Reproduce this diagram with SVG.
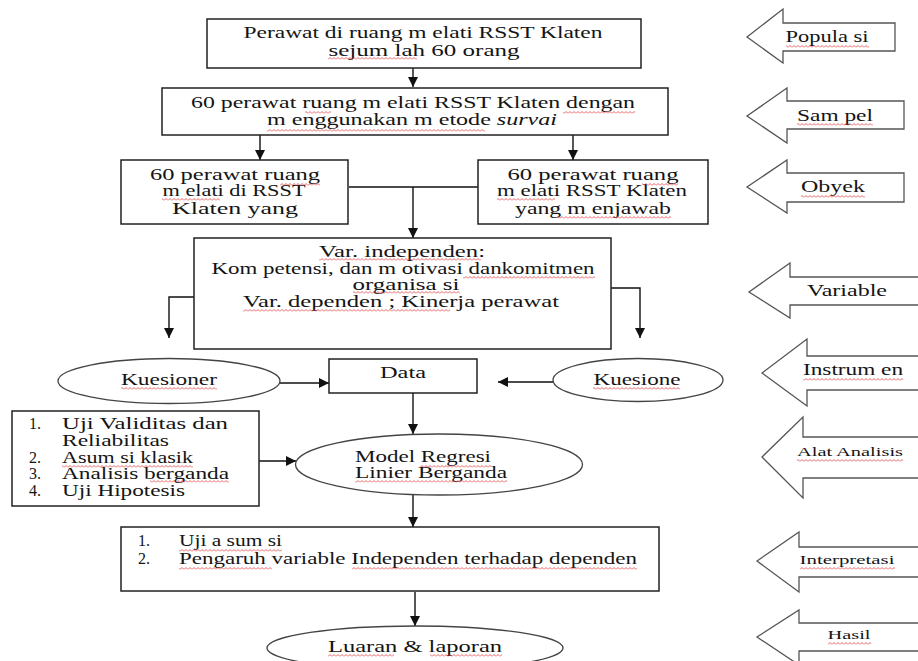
<svg xmlns="http://www.w3.org/2000/svg" width="918" height="661" viewBox="0 0 918 661">
<defs>
<marker id="ah" markerUnits="userSpaceOnUse" markerWidth="11" markerHeight="11" refX="10" refY="5" orient="auto">
<path d="M0,0 L10,5 L0,10 z" fill="#111"/>
</marker>
<pattern id="sq" width="4" height="3" patternUnits="userSpaceOnUse">
<path d="M0,2.5 L2,0.5 L4,2.5" fill="none" stroke="#e23a3a" stroke-width="0.8"/>
</pattern>
<style>
.box{fill:#fff;stroke:#222;stroke-width:1.5}
.ell{fill:#fff;stroke:#444;stroke-width:1.3}
.blk{fill:#fff;stroke:#555;stroke-width:1.3}
.t{font-family:"Liberation Serif","Times New Roman",serif;font-size:16px;fill:#141414}
.s{font-size:13px}
.c{text-anchor:middle}
.con{fill:none;stroke:#111;stroke-width:1.4}
#spell rect{fill:url(#sq)}
</style>
</defs>
<rect width="918" height="661" fill="#fff"/>

<g id="connectors">
<path class="con" d="M413,68 V87" marker-end="url(#ah)"/>
<path class="con" d="M260,135 V160" marker-end="url(#ah)"/>
<path class="con" d="M573,135 V160" marker-end="url(#ah)"/>
<path class="con" d="M349,187 H478"/>
<path class="con" d="M413,187 V238" marker-end="url(#ah)"/>
<path class="con" d="M208,297 H169 V338" marker-end="url(#ah)"/>
<path class="con" d="M611,288 H640 V338" marker-end="url(#ah)"/>
<path class="con" d="M279,383 H329" marker-end="url(#ah)"/>
<path class="con" d="M553,382 H498" marker-end="url(#ah)"/>
<path class="con" d="M413,393 V434" marker-end="url(#ah)"/>
<path class="con" d="M240,461 H296" marker-end="url(#ah)"/>
<path class="con" d="M413,495 V527" marker-end="url(#ah)"/>
<path class="con" d="M415,592 V626" marker-end="url(#ah)"/>
</g>

<g id="populasi-box">
<rect class="box" x="207" y="19" width="434" height="49"/>
<text class="t c" x="423" y="38" textLength="359" lengthAdjust="spacingAndGlyphs">Perawat di ruang m elati RSST Klaten</text>
<text class="t c" x="424" y="56" textLength="191" lengthAdjust="spacingAndGlyphs">sejum lah  60  orang</text>
</g>

<g id="sampel-box">
<rect class="box" x="162" y="88" width="506" height="47"/>
<text class="t c" x="413" y="108" textLength="444" lengthAdjust="spacingAndGlyphs">60 perawat ruang m elati RSST Klaten dengan</text>
<text class="t c" x="412" y="125" textLength="290" lengthAdjust="spacingAndGlyphs">m enggunakan m etode  <tspan font-style="italic">survai</tspan></text>
</g>

<g id="obyek-left">
<rect class="box" x="121" y="160" width="227" height="64"/>
<text class="t c" x="235" y="180" textLength="170" lengthAdjust="spacingAndGlyphs">60 perawat ruang</text>
<text class="t c" x="234" y="196" textLength="143" lengthAdjust="spacingAndGlyphs">m elati di RSST</text>
<text class="t c" x="235" y="214" textLength="126" lengthAdjust="spacingAndGlyphs">Klaten  yang</text>
</g>

<g id="obyek-right">
<rect class="box" x="478" y="160" width="230" height="64"/>
<text class="t c" x="593" y="180" textLength="171" lengthAdjust="spacingAndGlyphs">60 perawat ruang</text>
<text class="t c" x="592" y="196" textLength="190" lengthAdjust="spacingAndGlyphs">m elati RSST Klaten</text>
<text class="t c" x="593" y="214" textLength="156" lengthAdjust="spacingAndGlyphs">yang m enjawab</text>
</g>

<g id="variable-box">
<rect class="box" x="194" y="238" width="417" height="111"/>
<text class="t c" x="402" y="257" textLength="166" lengthAdjust="spacingAndGlyphs">Var. independen:</text>
<text class="t c" x="403" y="274" textLength="383" lengthAdjust="spacingAndGlyphs">Kom petensi,  dan m otivasi dankomitmen</text>
<text class="t c" x="406" y="290" textLength="107" lengthAdjust="spacingAndGlyphs">organisa si</text>
<text class="t c" x="401" y="307" textLength="316" lengthAdjust="spacingAndGlyphs">Var. dependen ; Kinerja perawat</text>
</g>

<g id="kuesioner-left">
<ellipse class="ell" cx="169" cy="381" rx="111" ry="22.5"/>
<text class="t c" x="169" y="385" textLength="96" lengthAdjust="spacingAndGlyphs">Kuesioner</text>
</g>

<g id="data-box">
<rect class="box" x="329" y="359" width="148" height="34"/>
<text class="t c" x="403" y="378" textLength="46" lengthAdjust="spacingAndGlyphs">Data</text>
</g>

<g id="kuesioner-right">
<ellipse class="ell" cx="638" cy="380" rx="85" ry="21.5"/>
<text class="t c" x="637" y="385" textLength="87" lengthAdjust="spacingAndGlyphs">Kuesione</text>
</g>

<g id="analisis-list">
<rect class="box" x="12" y="411" width="247" height="95"/>
<text class="t" x="29" y="429">1.</text>
<text class="t" x="62" y="429" textLength="166" lengthAdjust="spacingAndGlyphs">Uji Validitas  dan</text>
<text class="t" x="62" y="446" textLength="107" lengthAdjust="spacingAndGlyphs">Reliabilitas</text>
<text class="t" x="29" y="463">2.</text>
<text class="t" x="62" y="463" textLength="131" lengthAdjust="spacingAndGlyphs">Asum si klasik</text>
<text class="t" x="29" y="479">3.</text>
<text class="t" x="62" y="479" textLength="167" lengthAdjust="spacingAndGlyphs">Analisis berganda</text>
<text class="t" x="29" y="496">4.</text>
<text class="t" x="62" y="496" textLength="123" lengthAdjust="spacingAndGlyphs">Uji Hipotesis</text>
</g>

<g id="model-regresi">
<ellipse class="ell" cx="439" cy="464.5" rx="143.5" ry="30.5"/>
<text class="t" x="355" y="462" textLength="136" lengthAdjust="spacingAndGlyphs">Model Regresi</text>
<text class="t" x="355" y="478" textLength="152" lengthAdjust="spacingAndGlyphs">Linier Berganda</text>
</g>

<g id="interpretasi-box">
<rect class="box" x="121" y="527" width="538" height="64"/>
<text class="t" x="138" y="546">1.</text>
<text class="t" x="179" y="546" textLength="103" lengthAdjust="spacingAndGlyphs">Uji a sum si</text>
<text class="t" x="138" y="564">2.</text>
<text class="t" x="179" y="564" textLength="458" lengthAdjust="spacingAndGlyphs">Pengaruh variable Independen terhadap dependen</text>
</g>

<g id="luaran">
<ellipse class="ell" cx="415" cy="648" rx="148" ry="22"/>
<text class="t c" x="415" y="652" textLength="174" lengthAdjust="spacingAndGlyphs">Luaran &amp; laporan</text>
</g>

<g id="label-populasi">
<polygon class="blk" points="747,37 783,9 783,23 895,23 895,51 783,51 783,63"/>
<text class="t c" x="827" y="42" textLength="83" lengthAdjust="spacingAndGlyphs">Popula si</text>
</g>
<g id="label-sampel">
<polygon class="blk" points="747,116 787,88 787,101 904,101 904,129 787,129 787,143"/>
<text class="t c" x="835" y="121" textLength="76" lengthAdjust="spacingAndGlyphs">Sam pel</text>
</g>
<g id="label-obyek">
<polygon class="blk" points="747,187 787,160 787,173 904,173 904,202 787,202 787,213"/>
<text class="t c" x="833" y="192" textLength="64" lengthAdjust="spacingAndGlyphs">Obyek</text>
</g>
<g id="label-variable">
<polygon class="blk" points="749,292 790,263 790,277 925,277 925,305 790,305 790,318"/>
<text class="t c" x="847" y="296" textLength="80" lengthAdjust="spacingAndGlyphs">Variable</text>
</g>
<g id="label-instrumen">
<polygon class="blk" points="762,373 807,339 807,356 925,356 925,390 807,390 807,406"/>
<text class="t c" x="853" y="375" textLength="100" lengthAdjust="spacingAndGlyphs">Instrum en</text>
</g>
<g id="label-alat">
<polygon class="blk" points="762,457 803,417 803,437 925,437 925,478 803,478 803,498"/>
<text class="t s c" x="850" y="456" textLength="106" lengthAdjust="spacingAndGlyphs">Alat Analisis</text>
</g>
<g id="label-interpretasi">
<polygon class="blk" points="757,561 799,532 799,547 925,547 925,577 799,577 799,592"/>
<text class="t s c" x="847" y="564" textLength="95" lengthAdjust="spacingAndGlyphs">Interpretasi</text>
</g>
<g id="label-hasil">
<polygon class="blk" points="757,637 799,610 799,623 925,623 925,651 799,651 799,665"/>
<text class="t s c" x="849" y="639" textLength="43" lengthAdjust="spacingAndGlyphs">Hasil</text>
</g>

<g id="spell">
<rect x="328" y="57" width="89" height="3"/>
<rect x="305" y="111" width="26" height="3"/>
<rect x="563" y="111" width="72" height="3"/>
<rect x="267" y="129" width="218" height="3"/>
<rect x="280" y="183" width="40" height="3"/>
<rect x="162" y="198" width="58" height="3"/>
<rect x="642" y="183" width="36" height="3"/>
<rect x="497" y="198" width="58" height="3"/>
<rect x="557" y="216" width="114" height="3"/>
<rect x="319" y="258" width="162" height="3"/>
<rect x="463" y="276" width="132" height="3"/>
<rect x="353" y="291" width="107" height="3"/>
<rect x="243" y="309" width="207" height="3"/>
<rect x="121" y="387" width="96" height="3"/>
<rect x="593" y="387" width="87" height="3"/>
<rect x="62" y="465" width="131" height="3"/>
<rect x="150" y="480" width="79" height="3"/>
<rect x="420" y="465" width="71" height="3"/>
<rect x="355" y="480" width="152" height="3"/>
<rect x="179" y="549" width="103" height="3"/>
<rect x="179" y="567" width="93" height="3"/>
<rect x="352" y="567" width="285" height="3"/>
<rect x="328" y="654" width="66" height="3"/>
<rect x="430" y="654" width="72" height="3"/>
<rect x="786" y="45" width="83" height="3"/>
<rect x="797" y="123" width="76" height="3"/>
<rect x="801" y="195" width="64" height="3"/>
<rect x="803" y="378" width="100" height="3"/>
<rect x="797" y="459" width="106" height="3"/>
<rect x="800" y="567" width="95" height="3"/>
<rect x="828" y="642" width="43" height="3"/>
</g>
</svg>
